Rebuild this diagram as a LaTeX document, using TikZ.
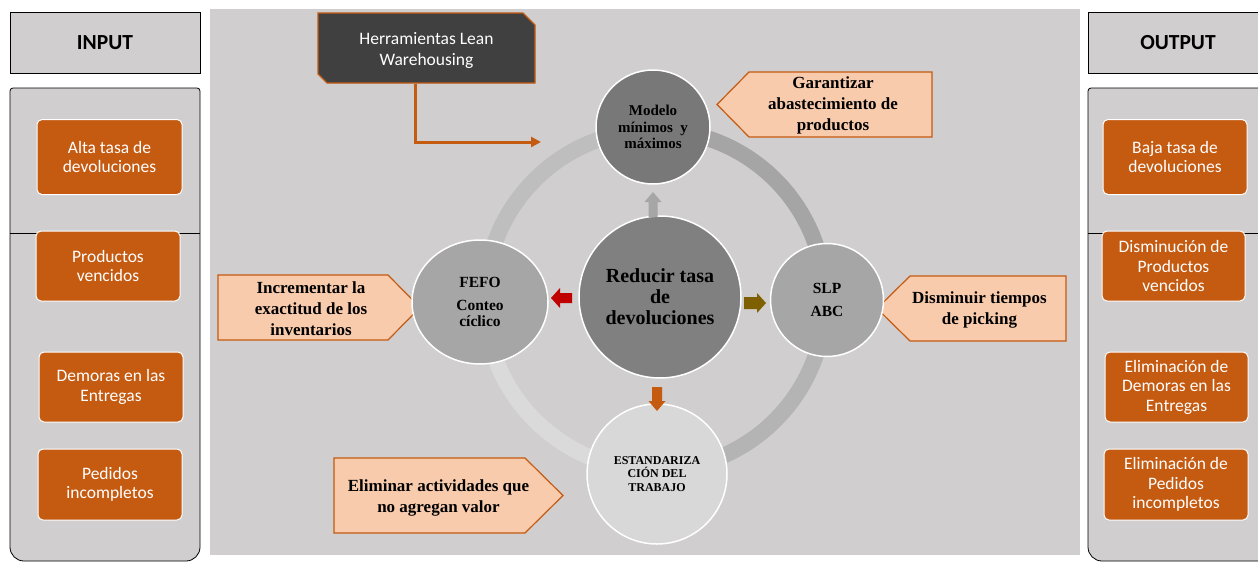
\documentclass[tikz,border=0pt]{standalone}
\usepackage{fontspec}
\setmainfont{Liberation Serif}
\newfontfamily\calfont{Carlito}
\usetikzlibrary{arrows.meta,shapes.geometric}

\definecolor{panel}{HTML}{D0CECE}
\definecolor{orng}{HTML}{C55A11}
\definecolor{peach}{HTML}{F8CBAD}
\definecolor{darkbox}{HTML}{404040}
\definecolor{ringA}{HTML}{BEBEBE}
\definecolor{ringB}{HTML}{A5A5A5}
\definecolor{ringC}{HTML}{B4B4B4}
\definecolor{ringD}{HTML}{DADADA}
\definecolor{arrRed}{HTML}{C00000}
\definecolor{arrOlive}{HTML}{7F6000}
\definecolor{arrGray}{HTML}{A6A6A6}
\definecolor{discDark}{RGB}{120,120,120}
\definecolor{discCore}{RGB}{128,128,128}
\definecolor{discMid}{RGB}{166,166,166}
\definecolor{discLight}{RGB}{216,216,216}

% block arrow: colour, base point, angle, length, shaft half width, head half width, head length
\newcommand\blockarrow[7]{%
  \fill[#1, shift={#2}, rotate=#3]
    (0,-#5) -- ({#4-#7},-#5) -- ({#4-#7},-#6) -- (#4,0) -- ({#4-#7},#6) -- ({#4-#7},#5) -- (0,#5) -- cycle;}

\begin{document}
\begin{tikzpicture}[x=1pt,y=-1pt,
  hdrbox/.style={draw=black, fill=panel, line width=0.8},
  hdrtext/.style={font=\calfont\bfseries\fontsize{21.5}{25}\selectfont},
  obox/.style={rectangle, rounded corners=5, fill=orng, draw=white, line width=1,
    text=white, align=center, inner sep=0,
    font=\calfont\fontsize{17.5}{19.5}\selectfont},
  callout/.style={fill=peach, draw=orng, line width=1.2},
  calltext/.style={align=center, inner sep=0, font=\bfseries\fontsize{17}{21}\selectfont},
  disc/.style={circle, draw=white, line width=1.5, inner sep=0, align=center,
    font=\bfseries},
  ringseg/.style={line width=16}
]
\useasboundingbox (0,0) rectangle (1258,562);
\clip (0,0) rectangle (1258,562);
\fill[white] (0,0) rectangle (1258,562);

% ---------- INPUT column ----------
\draw[hdrbox] (10,12) rectangle (200,73);
\node[hdrtext] (inp) at (105,43) {INPUT};
\draw[hdrbox] (10,300) {[rounded corners=3] -- (10,88) -- (200,88) -- (200,300)}
  {[rounded corners=14] -- (200,561) -- (10,561) -- (10,300)} -- cycle;
\draw[line width=0.8] (10,233) -- (200,233);
\node[obox, minimum width=145, minimum height=75] (in1) at (109.5,157) {Alta tasa de\\devoluciones};
\node[obox, minimum width=144, minimum height=70] (in2) at (108,266) {Productos\\vencidos};
\node[obox, minimum width=144, minimum height=70] (in3) at (111,387) {Demoras en las\\Entregas};
\node[obox, minimum width=144, minimum height=71] (in4) at (110,484.5) {Pedidos\\incompletos};

% ---------- OUTPUT column ----------
\draw[hdrbox] (1088,12) rectangle (1275,73);
\node[hdrtext] (outp) at (1178,43) {OUTPUT};
\draw[hdrbox] (1275,300) {[rounded corners=3] -- (1275,88) -- (1088,88) -- (1088,300)}
  {[rounded corners=14] -- (1088,561) -- (1275,561) -- (1275,300)} -- cycle;
\draw[line width=0.8] (1088,233) -- (1258,233);
\node[obox, minimum width=144, minimum height=75] (out1) at (1175,157) {Baja tasa de\\devoluciones};
\node[obox, minimum width=143, minimum height=70] (out2) at (1173.5,266) {Disminución de\\Productos\\vencidos};
\node[obox, minimum width=143, minimum height=70] (out3) at (1176.5,387) {Eliminación de\\Demoras en las\\Entregas};
\node[obox, minimum width=144, minimum height=71] (out4) at (1176,484.5) {Eliminación de\\Pedidos\\incompletos};

% ---------- central panel ----------
\fill[panel] (210,9) rectangle (1080,555);

% ring behind the circles
\coordinate (hub) at (655,300);
\draw[ringseg, ringA] (hub) ++(180:170) arc[start angle=180, end angle=270, radius=170];
\draw[ringseg, ringB] (hub) ++(270:170) arc[start angle=270, end angle=360, radius=170];
\draw[ringseg, ringC] (hub) ++(0:170) arc[start angle=0, end angle=90, radius=170];
\draw[ringseg, ringD] (hub) ++(90:170) arc[start angle=90, end angle=180, radius=170];

% Lean tools box
\draw[fill=darkbox, draw=orng, line width=1.2]
  (318,13) -- (523,13) -- (535,25) -- (535,83) -- (327,83) -- (318,74) -- cycle;
\node[text=white, align=center, inner sep=0, font=\calfont\fontsize{17.5}{21}\selectfont]
  (lean) at (426.5,50.5) {Herramientas Lean\\Warehousing};
\coordinate (leanout) at (415,84);
\coordinate (leanin) at (541,142);
\draw[orng, line width=3, -{Triangle[length=10pt,width=10pt]}] (leanout) |- (leanin);

% goal callouts
\draw[callout] (749,72) -- (932,72) -- (932,137) -- (749,137) -- (717,104.5) -- cycle;
\node[calltext] (goalA) at (833,105) {Garantizar\\abastecimiento de\\productos};

\draw[callout] (218,275) -- (388,275) -- (420,307.5) -- (388,340) -- (218,340) -- cycle;
\node[calltext] (goalB) at (311,309) {Incrementar la\\exactitud de los\\inventarios};

\draw[callout] (1066,276) -- (910,276) -- (877,308.5) -- (910,341) -- (1066,341) -- cycle;
\node[calltext] (goalC) at (979.5,310) {Disminuir tiempos\\de picking};

\draw[callout] (334,458) -- (525,458) -- (563,495.5) -- (525,533) -- (334,533) -- cycle;
\node[calltext] (goalD) at (438.5,497.5) {Eliminar actividades que\\no agregan valor};

% circles
\node[disc, fill=discDark, minimum size=114,
  font=\bfseries\fontsize{15}{16.5}\selectfont] (modelo) at (653,127)
  {Modelo\\mínimos\ \ y\\máximos};
\node[disc, ellipse, fill=discMid, minimum width=136, minimum height=124,
  font=\bfseries\fontsize{15.5}{16.5}\selectfont] (fefo) at (480,302)
  {FEFO\\[6.5pt]Conteo\\cíclico};
\node[disc, fill=discMid, minimum size=113,
  font=\bfseries\fontsize{15.5}{16}\selectfont] (slp) at (827,300)
  {SLP\\[7pt]ABC};
\node[disc, fill=discLight, minimum size=140,
  font=\bfseries\fontsize{12}{13.5}\selectfont] (estand) at (657,474)
  {ESTANDARIZA\\CIÓN DEL\\TRABAJO};
\node[disc, fill=discCore, minimum size=162,
  font=\bfseries\fontsize{20}{21}\selectfont] (core) at (660,297)
  {Reducir tasa\\de\\devoluciones};

% block arrows from the core to each tool
\blockarrow{arrGray}{(653,217)}{90}{25}{4.5}{8.5}{10}
\blockarrow{arrRed}{(572,298)}{180}{21}{5}{10}{9}
\blockarrow{arrOlive}{(744,303)}{0}{22}{6}{10}{9}
\blockarrow{orng}{(657,387)}{-90}{24}{5}{8.5}{10}
\end{tikzpicture}
\end{document}
